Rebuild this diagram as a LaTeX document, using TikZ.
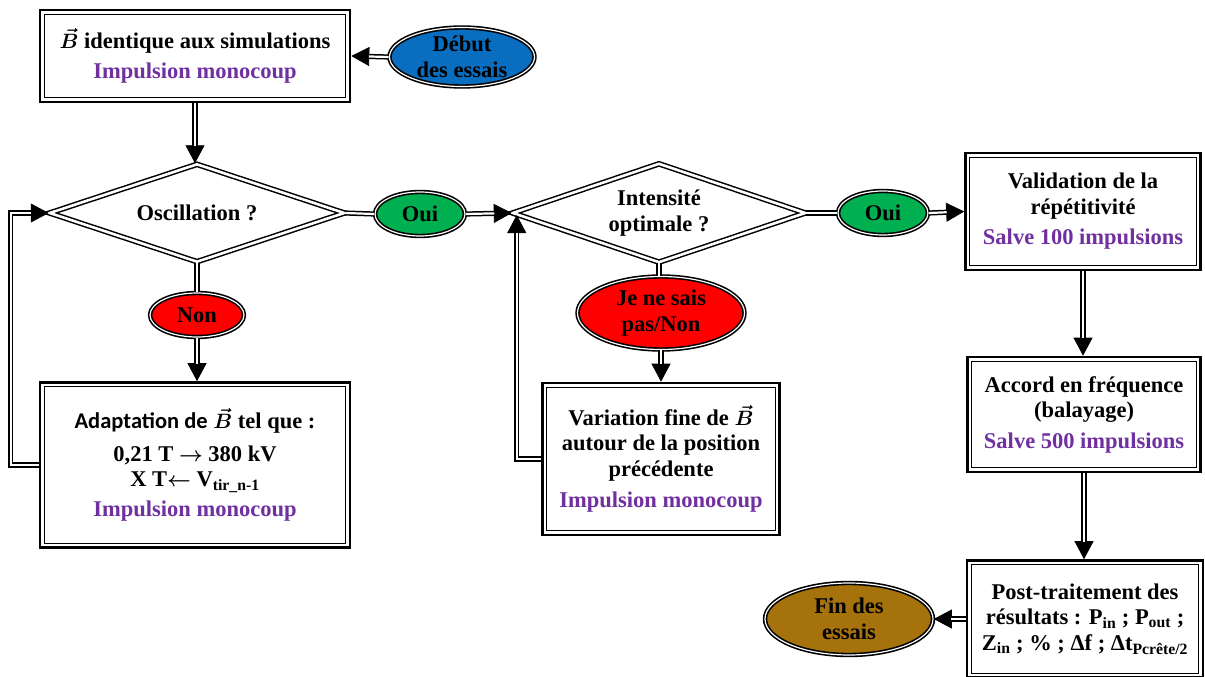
\documentclass[tikz,border=0pt]{standalone}
\usepackage{fontspec}
\setmainfont{Liberation Serif}
\newfontfamily\carl{Carlito}
\usetikzlibrary{shapes.geometric,arrows.meta,calc}
\definecolor{purp}{HTML}{7030A0}
\definecolor{dblue}{HTML}{0A6EC0}
\definecolor{dgreen}{HTML}{00B050}
\definecolor{dred}{HTML}{FF0000}
\definecolor{brn}{HTML}{A6720C}
\newcommand\arrowpath[1]{\draw[tipline] #1; \draw[dline, shorten >=17.5pt] #1;}
\newcommand\vB{$\vec{B}$}
\begin{document}
\begin{tikzpicture}[x=1pt,y=-1pt,
  font=\bfseries\boldmath\fontsize{22.5}{25.5}\selectfont,
  box/.style={draw, line width=2.6pt, fill=white, inner sep=0pt, align=center,
    path picture={\draw[line width=1.3pt] ([shift={(4.3pt,-4.3pt)}]path picture bounding box.north west) rectangle ([shift={(-4.3pt,4.3pt)}]path picture bounding box.south east);}},
  dia/.style={diamond, draw, double=white, double distance=2.6pt, line width=1.5pt, fill=white, inner sep=0pt, aspect=3, align=center},
  ell/.style={ellipse, draw, double=white, double distance=1.2pt, line width=1.6pt, inner sep=0pt, align=center},
  tipline/.style={line width=0.8pt, -{Triangle[length=18pt,width=19pt]}},
  dline/.style={double=white, double distance=2.2pt, line width=1.5pt}]
\useasboundingbox[fill=white] (0,0) rectangle (1205,677);

% boxes
\node[box, minimum width=310, minimum height=92] (b1) at (195,56)
  {\vB{} identique aux simulations\\[5pt]\textcolor{purp}{Impulsion monocoup}};
\node[box, minimum width=310, minimum height=165] (b2) at (195,465)
  {{\carl Adaptation de} \vB{} tel que :\\[7pt]0,21 T $\rightarrow$ 380 kV\\X T$\leftarrow$ V\textsubscript{tir\_n-1}\\[4pt]\textcolor{purp}{Impulsion monocoup}};
\node[box, minimum width=237, minimum height=152] (b4) at (661,459)
  {Variation fine de \vB\\autour de la position\\précédente\\[6pt]\textcolor{purp}{Impulsion monocoup}};
\node[box, minimum width=235, minimum height=117] (b3) at (1083,211.5)
  {Validation de la\\répétitivité\\[5pt]\textcolor{purp}{Salve 100 impulsions}};
\node[box, minimum width=233, minimum height=115] (b5) at (1084,414.5)
  {Accord en fréquence\\(balayage)\\[5pt]\textcolor{purp}{Salve 500 impulsions}};
\node[box, minimum width=236, minimum height=117] (b6) at (1085,619)
  {Post-traitement des\\résultats : P\textsubscript{in} ; P\textsubscript{out} ;\\Z\textsubscript{in} ; \% ; Δf ; Δt\textsubscript{Pcrête/2}};

% diamonds
\node[dia, minimum width=295, minimum height=98] (d1) at (197,213) {Oscillation ?};
\node[dia, minimum width=293, minimum height=99] (d2) at (659,213) {Intensité\\optimale ?};

% ellipses
\node[ell, fill=dblue, minimum width=145, minimum height=59] (deb) at (462,57) {Début\\des essais};
\node[ell, fill=dgreen, minimum width=90, minimum height=44] (oui1) at (420,214) {Oui};
\node[ell, fill=dred, minimum width=94, minimum height=44] (non) at (197,315) {Non};
\node[ell, fill=dred, minimum width=167, minimum height=73] (jns) at (661,313) {Je ne sais\\pas/Non};
\node[ell, fill=dgreen, minimum width=90, minimum height=44] (oui2) at (883,213) {Oui};
\node[ell, fill=brn, minimum width=168, minimum height=72] (fin) at (849,619) {Fin des\\essais};

% connectors
\arrowpath{(deb.west) -- (b1.east)}
\arrowpath{(b1.south) -- (b1.south |- d1.north)}
\draw[dline] (d1.east) -- (oui1.west);
\arrowpath{(oui1.east) -- (d2.west)}
\draw[dline] (d1.south) -- (non.north);
\arrowpath{(non.south) -- (non.south |- b2.north)}
\arrowpath{(b2.west) -- ++(-28,0) |- (d1.west)}
\draw[dline] (d2.east) -- (oui2.west);
\arrowpath{(oui2.east) -- (b3.west)}
\draw[dline] (d2.south) -- (d2.south |- jns.north);
\arrowpath{(jns.south) -- (jns.south |- b4.north)}
\arrowpath{(b4.west) -| ([xshift=5pt,yshift=-2pt]d2.west)}
\arrowpath{(b3.south) -- (b3.south |- b5.north)}
\arrowpath{(b5.south) -- (b5.south |- b6.north)}
\arrowpath{(b6.west) -- (fin.east)}
\end{tikzpicture}
\end{document}
